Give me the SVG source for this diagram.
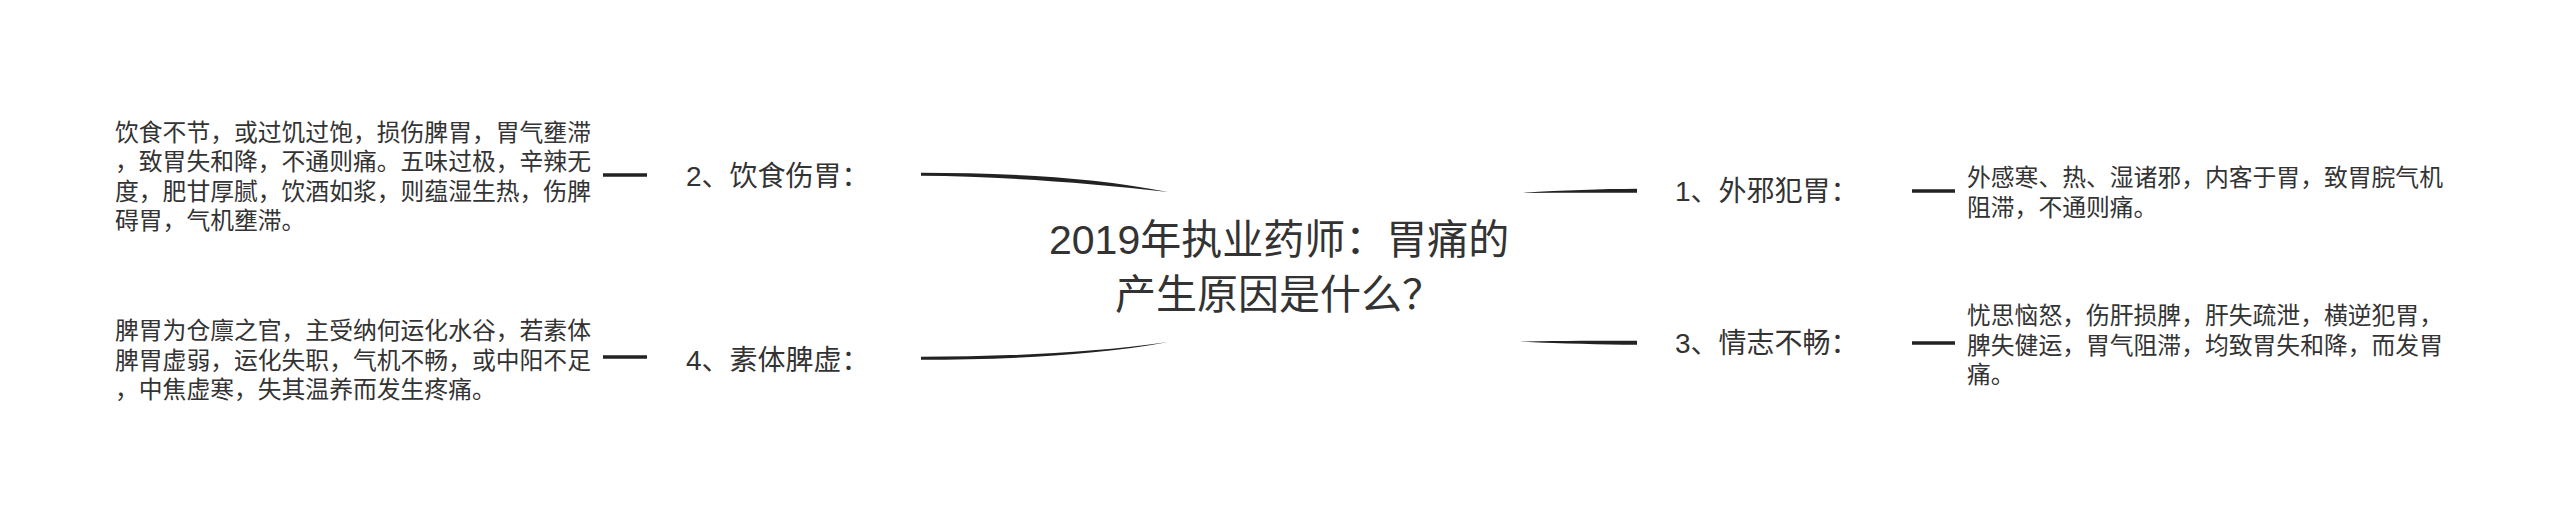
<svg xmlns="http://www.w3.org/2000/svg" width="2560" height="519" viewBox="0 0 2560 519">
<style>
text{font-family:"Liberation Sans","Noto Sans CJK SC",sans-serif;fill:#333}
.title{font-size:41px}
.label{font-size:28px}
.detail{font-size:23.8px}
.dash{stroke:#222;stroke-width:3.5;fill:none}
.brush{fill:#222;stroke:none}
</style>
<rect width="2560" height="519" fill="#fff"/>
<g id="connectors">
<path class="brush" d="M921,172.8 C1000,173 1090,176.5 1168,192 C1088,182.5 1000,176.5 921,175.8 Z"/>
<path class="brush" d="M921,356.8 C1000,356.5 1088,353.5 1168,342 C1090,356.5 1000,359.5 921,359.8 Z"/>
<path class="brush" d="M1520,193 C1560,190.5 1600,189 1637,188.8 L1637,192.8 C1600,192.8 1560,192.8 1520,193 Z"/>
<path class="brush" d="M1520,341.6 C1560,340.8 1600,340.8 1637,340.8 L1637,344.8 C1600,344.6 1560,343.5 1520,341.6 Z"/>
<line class="dash" x1="603" y1="175" x2="647" y2="175"/>
<line class="dash" x1="603" y1="357" x2="647" y2="357"/>
<line class="dash" x1="1912" y1="191" x2="1955" y2="191"/>
<line class="dash" x1="1912" y1="343" x2="1955" y2="343"/>
</g>
<g id="node-root">
<text class="title" x="1049" y="254">2019年执业药师：胃痛的</text>
<text class="title" x="1115" y="309">产生原因是什么？</text>
</g>
<g id="node-1">
<text class="label" x="1675" y="201">1、外邪犯胃：</text>
</g>
<g id="node-1-detail">
<text class="detail" x="1967" y="186">外感寒、热、湿诸邪，内客于胃，致胃脘气机</text>
<text class="detail" x="1967" y="215.5">阻滞，不通则痛。</text>
</g>
<g id="node-2">
<text class="label" x="686" y="185.5">2、饮食伤胃：</text>
</g>
<g id="node-2-detail">
<text class="detail" x="115" y="140.5">饮食不节，或过饥过饱，损伤脾胃，胃气壅滞</text>
<text class="detail" x="115" y="170">，致胃失和降，不通则痛。五味过极，辛辣无</text>
<text class="detail" x="115" y="199.5">度，肥甘厚腻，饮酒如浆，则蕴湿生热，伤脾</text>
<text class="detail" x="115" y="229">碍胃，气机壅滞。</text>
</g>
<g id="node-3">
<text class="label" x="1675" y="353">3、情志不畅：</text>
</g>
<g id="node-3-detail">
<text class="detail" x="1967" y="324">忧思恼怒，伤肝损脾，肝失疏泄，横逆犯胃，</text>
<text class="detail" x="1967" y="353.5">脾失健运，胃气阻滞，均致胃失和降，而发胃</text>
<text class="detail" x="1967" y="383">痛。</text>
</g>
<g id="node-4">
<text class="label" x="686" y="369.5">4、素体脾虚：</text>
</g>
<g id="node-4-detail">
<text class="detail" x="115" y="339">脾胃为仓廪之官，主受纳何运化水谷，若素体</text>
<text class="detail" x="115" y="368.5">脾胃虚弱，运化失职，气机不畅，或中阳不足</text>
<text class="detail" x="115" y="398">，中焦虚寒，失其温养而发生疼痛。</text>
</g>
</svg>
